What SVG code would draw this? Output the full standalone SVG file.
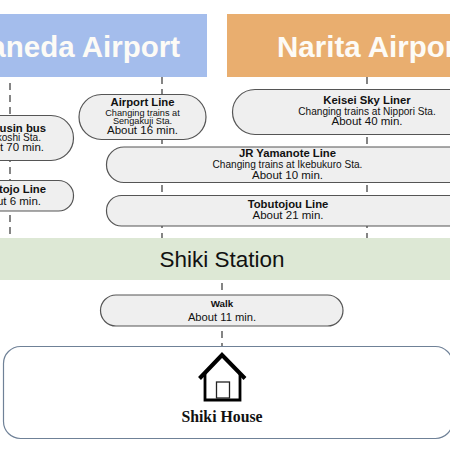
<svg xmlns="http://www.w3.org/2000/svg" width="450" height="450" viewBox="0 0 450 450">
<style>
text{font-family:"Liberation Sans",Arial,sans-serif;fill:#111}
.pill{fill:#efefef;stroke:#555;stroke-width:1.2}
.t{font-size:11.300px;font-weight:bold;text-anchor:middle}
.s{font-size:10.100px;text-anchor:middle}
.a{font-size:9.200px;text-anchor:middle}
.m{font-size:11.500px;text-anchor:middle}
.e{text-anchor:end}
.h{font-size:29.500px;font-weight:bold;fill:#fdfbf6}
.c{stroke:#444;stroke-width:1.3;stroke-dasharray:7 5;fill:none}
</style>
<rect width="450" height="450" fill="#fff"/>
<g id="connectors">
<path class="c" d="M10 83V238"/>
<path class="c" d="M162 77V238"/>
<path class="c" d="M367 77V238"/>
<path class="c" d="M222 283V346"/>
</g>
<g id="haneda"><rect x="-2" y="14" width="209" height="63" fill="#a4bdec"/><text class="h e" x="180" y="57" style="text-anchor:end">aneda Airport</text></g>
<g id="narita"><rect x="227" y="14" width="225" height="63" fill="#e9ae6f"/><text class="h" x="277" y="57">Narita Airpor</text></g>
<g id="bus"><rect x="-40" y="115.500" width="113.500" height="45" rx="22.500" class="pill"/><text class="t" x="46" y="131.500" style="text-anchor:end">usin bus</text><text class="s" x="41" y="140.500" style="text-anchor:end">akoshi Sta.</text><text class="m" x="44" y="151" style="text-anchor:end">ut 70 min.</text></g>
<g id="tojo-left"><rect x="-40" y="180.500" width="113.500" height="30.500" rx="15" class="pill"/><text class="t" x="46" y="192.700" style="text-anchor:end">tojo Line</text><text class="m" x="41" y="204.500" style="text-anchor:end">ut 6 min.</text></g>
<g id="airport-line"><rect x="79" y="94.500" width="127" height="45" rx="22.500" class="pill"/><text class="t" x="142.500" y="105.700">Airport Line</text><text class="a" x="142.500" y="115.600">Changing trains at</text><text class="a" x="142.500" y="124">Sengakuji Sta.</text><text class="m" x="142.500" y="134">About 16 min.</text></g>
<g id="keisei"><rect x="232.500" y="89.500" width="260" height="45" rx="22.500" class="pill"/><text class="t" x="367" y="104.300">Keisei Sky Liner</text><text class="s" x="367" y="114.700">Changing trains at Nippori Sta.</text><text class="m" x="367" y="125.300">About 40 min.</text></g>
<g id="yamanote"><rect x="106.500" y="147" width="380" height="35.500" rx="17.500" class="pill"/><text class="t" x="287.500" y="157">JR Yamanote Line</text><text class="s" x="287.500" y="167.700">Changing trains at Ikebukuro Sta.</text><text class="m" x="287.500" y="178.500">About 10 min.</text></g>
<g id="tobutojou"><rect x="106.500" y="195.500" width="380" height="30.500" rx="15" class="pill"/><text class="t" x="288" y="207.500">Tobutojou Line</text><text class="m" x="288" y="219">About 21 min.</text></g>
<g id="station"><rect x="-2" y="238" width="454" height="42" fill="#dde8d5"/><text x="222" y="267" font-size="22.500" text-anchor="middle">Shiki Station</text></g>
<g id="walk"><rect x="100.500" y="295" width="242.500" height="31" rx="15.500" class="pill"/><text class="t" x="222" y="307" style="font-size:9.800px">Walk</text><text class="s" x="222" y="320.700" style="font-size:11.200px">About 11 min.</text></g>
<g id="house"><rect x="3.500" y="346.500" width="449" height="92" rx="17" fill="#fff" stroke="#6f8197" stroke-width="1.200"/>
<path d="M199.500 378.500L222 355L245 378.500" fill="none" stroke="#000" stroke-width="4"/>
<path d="M205 373V400H240V373" fill="none" stroke="#000" stroke-width="2.800"/>
<rect x="216.500" y="382" width="13" height="16" fill="#fff" stroke="#222" stroke-width="1.300"/>
<text x="222" y="422" font-size="15.800" font-weight="bold" text-anchor="middle" style="font-family:'Liberation Serif',serif">Shiki House</text></g>
</svg>
